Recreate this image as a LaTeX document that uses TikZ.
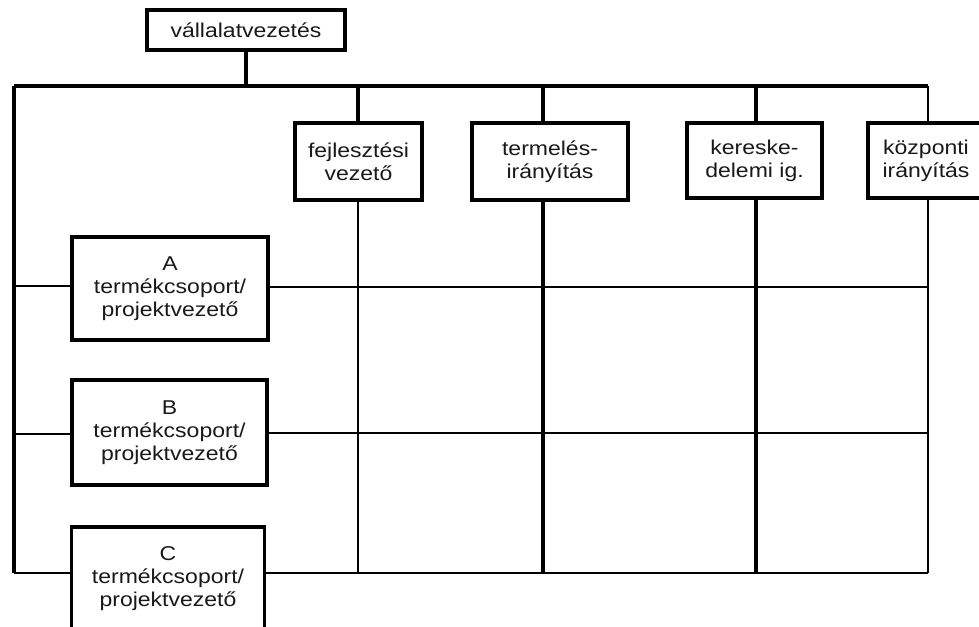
\documentclass[tikz,border=0pt]{standalone}
\usepackage{fontspec}
\setmainfont{Liberation Sans}[FakeStretch=1.15]
\begin{document}
\begin{tikzpicture}[x=1pt,y=-1pt,
  box/.style={draw=black, line width=3.6pt, fill=white, align=center,
    inner sep=0pt, font=\fontsize{20}{23}\selectfont, text=black!90},
  bus/.style={line width=3.2pt},
  col/.style={line width=2.6pt},
  row/.style={line width=2pt}]
\useasboundingbox (0,0) rectangle (979,626);
\begin{scope}
\clip (0,0) rectangle (979,626);

% main bus and its end points
\coordinate (busL) at (14,86);
\coordinate (busR) at (928,86);
% column positions on the bus
\coordinate (cF) at (358,86);
\coordinate (cT) at (543,86);
\coordinate (cK) at (756,86);
% row heights
\coordinate (rA) at (14,286);
\coordinate (rB) at (14,434);
\coordinate (rC) at (14,573);
\coordinate (rAe) at (928,287);
\coordinate (rBe) at (928,433);
\coordinate (rCe) at (928,573);

% top management
\node[box, minimum width=198pt, minimum height=40pt] (top) at (246,30) {vállalatvezetés};

% functional managers
\node[box, minimum width=127pt, minimum height=77pt] (fej) at (358.5,161.5) {fejlesztési\\vezető};
\node[box, minimum width=156pt, minimum height=77pt] (ter) at (550,161.5) {termelés-\\irányítás};
\node[box, minimum width=135pt, minimum height=75pt] (ker) at (754.5,160.5) {kereske-\\delemi ig.};
\node[box, minimum width=116pt, minimum height=75pt] (koz) at (926,160.5) {központi\\irányítás};

% product group / project managers
\node[box, anchor=north, minimum width=196pt, minimum height=103pt] (A) at (170,235) {A\\termékcsoport/\\projektvezető};
\node[box, anchor=north, minimum width=195pt, minimum height=105pt] (B) at (169.5,378) {B\\termékcsoport/\\projektvezető};
\node[box, anchor=north, minimum width=193pt, minimum height=104pt] (C) at (168,525) {C\\termékcsoport/\\projektvezető};

% bus and stems
\draw[bus] (top.south) -- (top.south |- busL);
\draw[bus] (busL) -- (busR);
\draw[bus] (busL) -- (rC);
\draw[bus] (cF) -- (cF |- fej.north);
\draw[bus] (cT) -- (cT |- ter.north);
\draw[bus] (cK) -- (cK |- ker.north);
\draw[col] (busR) -- (busR |- koz.north);

% row connectors from the left bus
\draw[row] (rA) -- (rA -| A.west);
\draw[row] (rB) -- (rB -| B.west);
\draw[row] (rC) -- (rC -| C.west);

% matrix grid: rows
\draw[row] (rAe -| A.east) -- (rAe);
\draw[row] (rBe -| B.east) -- (rBe);
\draw[row] (rCe -| C.east) -- (rCe);

% matrix grid: columns
\draw[col] (fej.south -| cF) -- (cF |- rCe);
\draw[bus] (ter.south -| cT) -- (cT |- rCe);
\draw[bus] (ker.south -| cK) -- (cK |- rCe);
\draw[row] (koz.south -| busR) -- (rCe);
\end{scope}
\end{tikzpicture}
\end{document}
